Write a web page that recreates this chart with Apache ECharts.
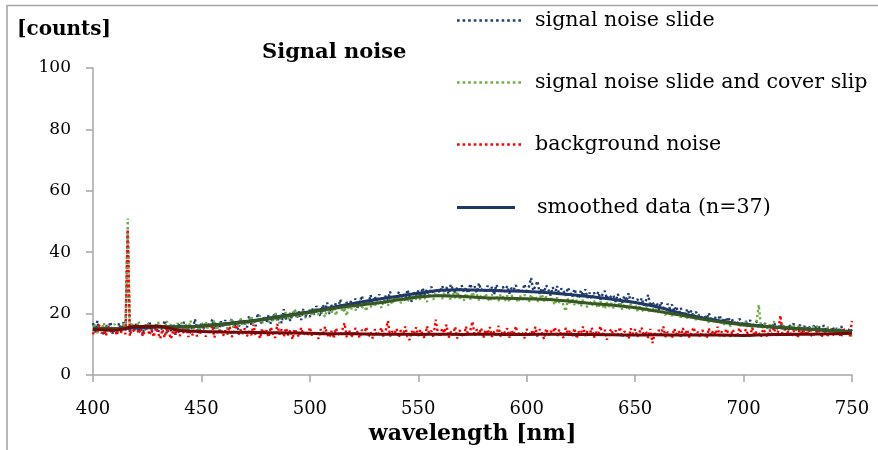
<!DOCTYPE html>
<html>
<head>
<meta charset="utf-8">
<title>Signal noise</title>
<script src="https://cdn.jsdelivr.net/npm/echarts/dist/echarts.min.js"></script>
<style>
    html,body{margin:0;padding:0;background:#fff;}
    #main{width:878px;height:450px;}
</style>
</head>
<body>
<div id="main"></div>
<script>
// wavelength grid: raw spectra every 1 nm, smoothed curves every 10 nm
var wlStart = 400;
var rawStep = 1;
var smoothStep = 10;
var xTicks = [400, 450, 500, 550, 600, 650, 700, 750];
var yTicks = [0, 20, 40, 60, 80, 100];

// signal noise slide (raw, 400..750 nm)
var slideNoise = [
    16.9,13.8,17.6,14.2,15.9,12.9,16.4,14.7,17.3,13.5,
    15.8,13.4,16.9,14.1,17.2,15.0,47.0,13.6,16.5,14.4,
    17.1,14.0,15.7,13.2,16.8,14.9,17.5,13.9,15.4,16.6,
    13.7,16.2,14.5,17.8,13.4,15.9,14.3,16.7,13.1,15.6,
    16.9,14.2,17.3,15.0,13.8,16.4,14.6,18.2,15.1,14.0,
    17.2,15.3,13.9,16.8,15.6,18.1,14.7,16.3,14.2,17.5,
    15.4,17.9,14.9,16.6,18.4,15.2,17.1,14.8,18.0,16.1,
    17.6,15.5,19.3,16.4,18.2,15.9,20.1,16.8,17.3,19.0,
    17.1,19.6,16.7,18.9,20.3,17.4,19.2,16.9,21.4,18.1,
    20.2,17.6,19.8,21.3,18.4,20.7,17.9,21.6,19.1,20.4,
    18.9,21.8,19.6,22.5,20.3,19.2,22.9,20.8,23.6,19.9,
    22.8,20.7,23.5,21.4,24.6,22.1,20.9,23.8,21.6,24.2,
    22.4,24.9,21.9,23.7,25.8,22.6,24.3,23.0,26.1,22.8,
    25.6,23.4,26.3,24.1,22.9,25.9,24.6,27.2,23.8,26.0,
    24.5,27.1,25.0,26.6,24.2,27.8,25.4,23.9,26.9,25.7,
    27.5,25.3,28.4,26.1,27.9,25.6,28.8,26.7,25.9,28.1,
    26.8,29.0,27.3,28.6,26.4,29.5,27.8,26.9,28.7,27.1,
    29.2,27.0,28.4,26.6,29.7,27.5,28.9,26.8,29.9,27.6,
    28.3,26.7,29.1,27.4,28.6,26.2,29.4,27.8,26.9,28.8,
    27.1,29.0,26.5,28.4,27.7,29.3,26.8,28.1,27.3,29.6,
    26.6,28.7,31.6,27.5,28.9,30.6,26.4,28.3,27.0,29.2,
    27.8,25.9,28.6,26.5,29.0,26.1,28.2,27.3,25.8,28.5,
    26.9,25.4,28.0,26.2,24.9,27.6,25.7,27.9,25.1,26.8,
    24.7,26.9,25.2,27.1,24.5,26.3,27.4,24.8,26.0,25.3,
    25.9,23.8,26.4,24.6,23.5,25.8,24.1,26.6,23.7,25.2,
    22.9,24.8,23.1,25.0,22.6,24.3,26.1,22.4,23.9,22.2,
    23.5,21.3,23.8,22.0,21.1,23.2,21.7,22.9,20.8,22.4,
    19.5,21.8,20.4,19.1,21.5,19.9,21.0,18.8,20.6,19.3,
    19.8,17.9,19.4,18.3,20.2,17.5,19.0,18.6,17.2,19.5,
    16.8,18.6,17.3,18.9,16.5,18.1,17.0,16.4,18.3,17.6,
    15.9,17.6,16.2,17.9,15.5,16.8,17.4,15.3,16.9,15.8,
    16.9,14.9,16.4,15.2,17.1,15.6,14.8,16.7,15.3,16.2,
    14.6,16.5,15.0,16.8,14.4,15.7,16.3,14.7,15.9,14.9,
    16.1,14.3,15.5,16.4,14.0,15.8,14.6,16.2,14.2,15.4,
    13.9,15.7,14.4,15.2,13.6,15.9,14.1,14.8,13.8,15.3,
    14.3
];

// signal noise slide and cover slip (raw)
var coverNoise = [
    14.3,16.4,13.6,15.9,14.8,17.0,13.9,16.2,14.5,15.7,
    16.6,13.9,15.4,14.2,16.8,15.1,51.0,14.6,17.1,15.3,
    14.9,17.4,15.6,16.3,14.4,17.0,15.8,14.7,16.5,15.2,
    17.3,14.8,16.1,15.0,17.6,14.5,16.7,15.5,14.1,16.9,
    15.4,17.2,14.6,16.5,15.1,17.7,14.8,16.3,15.6,14.2,
    16.8,15.2,17.5,14.9,16.3,15.7,17.9,14.6,16.4,17.2,
    15.8,17.6,15.1,16.9,18.3,15.6,17.2,16.0,18.6,16.4,
    18.0,16.2,17.6,19.2,16.5,18.4,17.0,19.4,16.9,18.3,
    19.3,17.2,18.8,17.6,20.4,18.0,16.9,19.7,18.4,20.5,
    18.1,20.3,19.0,21.4,18.6,20.0,19.4,21.2,18.5,20.8,
    21.3,19.2,20.7,22.1,19.6,21.5,20.2,18.9,21.9,20.4,
    20.1,22.6,19.4,21.9,23.1,20.5,22.0,19.3,22.8,21.2,
    23.5,21.0,22.4,24.2,21.6,23.3,20.8,24.0,22.1,23.6,
    22.4,24.6,23.1,21.9,25.0,23.5,22.6,24.7,23.0,25.1,
    24.0,25.6,23.4,24.9,26.1,23.7,25.3,24.2,26.4,24.6,
    26.0,24.3,26.7,25.1,23.8,26.3,25.5,24.6,26.9,25.2,
    26.6,24.7,27.0,25.4,26.2,24.5,26.8,25.0,27.2,24.9,
    25.9,24.2,26.6,25.3,24.6,27.0,25.1,26.4,24.3,26.1,
    24.6,26.5,25.0,23.9,26.2,24.8,25.7,24.1,26.3,25.4,
    24.2,25.9,23.8,26.0,24.7,25.3,23.6,25.8,24.5,26.1,
    25.4,23.7,26.2,24.4,25.8,23.9,25.1,26.3,24.0,25.6,
    23.8,25.5,24.2,22.9,25.3,23.5,24.6,22.6,20.8,24.9,
    23.1,25.0,22.8,24.4,23.5,22.3,24.7,23.0,22.1,24.2,
    22.5,24.1,23.0,21.8,23.9,22.6,21.5,23.7,22.2,23.4,
    21.7,23.5,22.1,23.8,21.3,22.9,22.0,21.1,23.2,21.9,
    22.8,20.9,22.3,21.4,20.5,22.6,21.2,20.2,21.9,20.7,
    21.6,19.8,21.3,20.4,19.5,21.5,20.0,19.2,20.9,19.6,
    20.5,18.7,19.9,20.8,18.4,19.7,18.9,20.1,17.9,19.3,
    18.9,17.5,19.1,18.0,17.2,18.7,17.7,16.9,18.4,17.3,
    17.8,16.4,17.5,16.9,15.9,17.6,16.6,17.3,15.8,16.9,
    16.1,17.3,15.6,16.8,15.2,16.6,17.4,22.8,16.0,15.4,
    16.7,15.1,16.3,15.6,17.5,14.9,16.2,15.4,16.9,15.0,
    16.0,14.7,15.8,16.5,14.5,15.6,16.2,14.6,15.9,14.9,
    15.5,14.1,15.9,14.6,16.0,14.3,15.2,14.8,13.9,15.7,
    14.6,13.8,15.3,14.2,15.0,13.5,14.7,14.1,13.2,15.0,
    11.6
];

// background noise (raw)
var bgNoise = [
    13.2,15.9,14.1,16.3,13.5,15.2,12.8,16.0,14.4,13.6,
    15.5,12.9,16.1,13.8,15.0,13.3,47.5,12.7,15.6,14.0,
    16.2,13.4,15.1,12.6,14.7,16.0,13.0,14.9,12.4,15.4,
    13.6,11.9,14.8,12.2,15.3,13.7,11.8,14.5,13.1,15.6,
    12.7,14.9,13.5,15.8,12.4,14.2,13.0,15.1,12.6,14.6,
    13.3,15.7,12.5,14.4,13.8,16.1,12.2,14.7,13.5,15.0,
    12.8,14.5,13.2,15.9,12.4,14.0,16.3,12.9,14.8,13.4,
    15.2,12.6,14.3,13.0,16.4,12.8,14.6,11.9,15.1,13.7,
    14.5,12.3,15.6,13.4,12.1,16.6,13.2,14.9,12.5,15.3,
    12.9,14.7,11.6,15.0,13.6,12.4,15.4,13.1,14.2,12.7,
    15.5,12.6,14.1,13.5,11.8,14.9,12.9,15.7,13.3,12.2,
    14.4,12.0,15.2,13.6,12.7,14.8,16.9,12.3,14.6,13.0,
    12.5,15.3,13.8,12.1,14.7,13.2,15.6,12.4,14.0,11.9,
    14.9,12.8,13.7,15.4,12.3,14.5,17.6,12.6,14.2,13.5,
    15.1,12.2,14.6,13.0,15.8,12.5,11.4,14.3,13.3,15.5,
    12.7,14.8,13.1,12.0,15.9,13.6,14.4,12.3,18.0,13.9,
    12.4,15.2,13.7,16.4,12.2,14.1,13.0,15.7,11.9,14.6,
    13.4,12.3,15.8,12.9,14.5,17.4,12.6,14.9,13.2,15.3,
    12.1,14.7,13.3,15.6,12.4,14.2,13.0,16.0,12.5,14.4,
    13.8,15.2,12.2,14.6,13.1,15.9,12.7,14.0,13.5,12.0,
    15.0,12.6,14.4,13.2,15.7,12.3,14.9,13.6,11.7,15.1,
    12.9,14.3,13.7,15.5,12.4,14.8,13.0,12.1,15.3,13.4,
    14.6,12.5,15.2,11.9,14.1,13.5,15.8,12.7,14.4,13.0,
    15.4,12.2,14.0,13.3,15.9,12.6,14.7,11.5,13.8,15.0,
    12.8,14.5,13.1,15.6,12.3,14.2,13.6,11.8,15.2,13.4,
    14.9,12.4,13.9,15.4,12.7,14.3,12.1,15.0,10.4,13.6,
    12.6,14.7,13.2,15.8,12.4,14.0,13.5,12.0,15.1,13.3,
    14.4,12.5,15.3,13.0,14.8,12.2,13.9,15.5,12.8,14.1,
    12.3,14.6,13.4,12.0,15.2,12.9,14.5,13.1,15.7,12.6,
    14.2,12.1,15.0,13.6,12.5,14.8,13.2,12.4,15.3,13.7,
    12.2,14.9,13.3,12.6,15.4,12.9,14.1,13.6,12.3,15.0,
    13.9,12.4,14.7,13.2,15.5,12.8,14.3,19.4,12.7,14.9,
    13.0,15.3,12.5,14.4,13.7,12.1,15.6,13.3,14.6,12.9,
    14.8,13.1,12.4,15.2,13.6,14.5,12.2,15.0,13.4,12.8,
    15.1,13.5,12.6,14.7,13.9,12.3,15.4,13.2,14.3,12.7,
    17.6
];

// smoothed data (n=37), every 10 nm from 400 to 750
var slideSmooth = [15.3,15.0,15.4,15.6,15.7,16.0,16.6,17.4,18.4,19.5,20.6,22.0,23.3,24.5,25.6,26.6,27.6,27.8,
    27.6,27.4,27.2,26.8,26.2,25.5,24.6,23.6,22.2,20.3,18.7,17.5,16.5,15.8,15.3,14.9,14.5,14.1];
var coverSmooth = [15.2,15.0,15.8,15.9,15.6,15.9,16.5,17.3,18.2,19.3,20.4,21.6,22.6,23.4,24.4,25.4,25.8,25.6,
    25.2,25.0,24.8,24.6,24.0,23.3,22.7,21.9,20.8,19.6,18.3,17.2,16.3,15.8,15.3,14.9,14.5,14.1];
var bgSmooth = [14.8,14.6,15.8,15.9,14.5,14.2,14.0,13.9,13.8,13.7,13.6,13.4,13.4,13.3,13.3,13.2,13.3,13.2,
    13.3,13.2,13.2,13.3,13.2,13.2,13.1,13.0,13.1,13.0,13.0,13.0,12.9,13.1,13.2,13.3,13.4,13.6];

var serif = "DejaVu Serif";
var labelRowY = 409;   // centre line of the wavelength tick labels

function toPairs(arr, step) {
    var out = [];
    for (var i = 0; i < arr.length; i++) {
        out.push([wlStart + i * step, arr[i]]);
    }
    return out;
}

// dotted legend icon, a row of small squares
function dotIcon() {
    var p = "path://";
    for (var i = 0; i < 12; i++) {
        p += "M" + (i * 5.5) + ",0h2.6v2.6h-2.6z";
    }
    return p;
}

function rawSeries(name, color, arr) {
    return {
        name: name,
        type: 'line',
        color: color,
        data: toPairs(arr, rawStep),
        showSymbol: false,
        symbol: 'none',
        lineStyle: { color: color, width: 2.4, type: [2.3, 2.6] },
        emphasis: { disabled: true },
        animation: false
    };
}

function smoothSeries(name, color, arr) {
    return {
        name: name,
        type: 'line',
        color: color,
        data: toPairs(arr, smoothStep),
        smooth: 0.35,
        showSymbol: false,
        symbol: 'none',
        lineStyle: { color: color, width: 3 },
        emphasis: { disabled: true },
        animation: false
    };
}

var frame = {   // chart-area frame (only top and left edges visible)
    type: 'polyline',
    shape: { points: [[7, 450], [7, 5.5], [878, 5.5]] },
    style: { stroke: '#a6a6a6', lineWidth: 1.6, fill: null },
    silent: true
};

var myChart = echarts.init(document.getElementById('main'), null, { renderer: 'canvas' });
var option = {
    backgroundColor: '#fff',
    animation: false,
    title: [
        {
            text: 'Signal noise',
            left: 262, top: 42, padding: 0,
            textStyle: { fontFamily: serif, fontSize: 21, fontWeight: 'bold', color: '#000' }
        },
        {
            text: '[counts]',
            left: 17, top: 20, padding: 0,
            textStyle: { fontFamily: serif, fontSize: 20, fontWeight: 'bold', color: '#000' }
        }
    ],
    legend: [
        {
            orient: 'vertical',
            left: 457, top: 10, padding: 0,
            itemWidth: 64, itemHeight: 3, itemGap: 41,
            selectedMode: false,
            textStyle: { fontFamily: serif, fontSize: 20.6, color: '#000', lineHeight: 20, padding: [0, 0, 0, 9] },
            data: [
                { name: 'signal noise slide', icon: dotIcon() },
                { name: 'signal noise slide and cover slip', icon: dotIcon() },
                { name: 'background noise', icon: dotIcon() }
            ]
        },
        {
            orient: 'vertical',
            left: 457, top: 197, padding: 0,
            itemWidth: 58, itemHeight: 3,
            selectedMode: false,
            textStyle: { fontFamily: serif, fontSize: 20.6, color: '#000', lineHeight: 20, padding: [0, 0, 0, 17] },
            data: [{ name: 'smoothed data (n=37)', icon: 'rect' }]
        }
    ],
    // fixed plot box, no automatic shrinking for labels
    grid: { left: 93, right: 26, top: 68, bottom: 75, outerBoundsMode: 'none', containLabel: false },
    xAxis: {
        type: 'value',
        min: xTicks[0], max: xTicks[xTicks.length - 1], interval: 50,
        name: 'wavelength [nm]',
        nameLocation: 'middle', nameGap: 48,
        nameTextStyle: { fontFamily: serif, fontSize: 22, fontWeight: 'bold', color: '#000' },
        axisLine: { show: true, lineStyle: { color: '#a6a6a6', width: 1.5 } },
        axisTick: { show: true, length: 7, lineStyle: { color: '#a6a6a6', width: 1.5 } },
        axisLabel: { show: false },
        splitLine: { show: false }
    },
    yAxis: {
        type: 'value',
        min: yTicks[0], max: yTicks[yTicks.length - 1], interval: 20,
        axisLine: { show: true, lineStyle: { color: '#a6a6a6', width: 1.5 } },
        axisTick: { show: true, length: 7, lineStyle: { color: '#a6a6a6', width: 1.5 } },
        axisLabel: { margin: 22, fontFamily: serif, fontSize: 17, color: '#000' },
        splitLine: { show: false }
    },
    graphic: [frame],
    series: [
        rawSeries('signal noise slide', '#203c74', slideNoise),
        rawSeries('signal noise slide and cover slip', '#70ad47', coverNoise),
        rawSeries('background noise', '#ff0000', bgNoise),
        smoothSeries('smoothed data (n=37)', '#1f3864', slideSmooth),
        smoothSeries('smoothed cover slip', '#375623', coverSmooth),
        smoothSeries('smoothed background', '#6e0a0a', bgSmooth)
    ]
};
myChart.setOption(option);

// wavelength tick labels, placed from the x scale a bit below the axis like the original
var gfx = [frame];
for (var t = 0; t < xTicks.length; t++) {
    var px = myChart.convertToPixel({ xAxisIndex: 0 }, xTicks[t]);
    gfx.push({
        type: 'text',
        x: px, y: labelRowY,
        silent: true,
        style: {
            text: String(xTicks[t]),
            align: 'center', verticalAlign: 'middle',
            font: '18px "' + serif + '"',
            fill: '#000'
        }
    });
}
myChart.setOption({ graphic: gfx });
</script>
</body>
</html>
